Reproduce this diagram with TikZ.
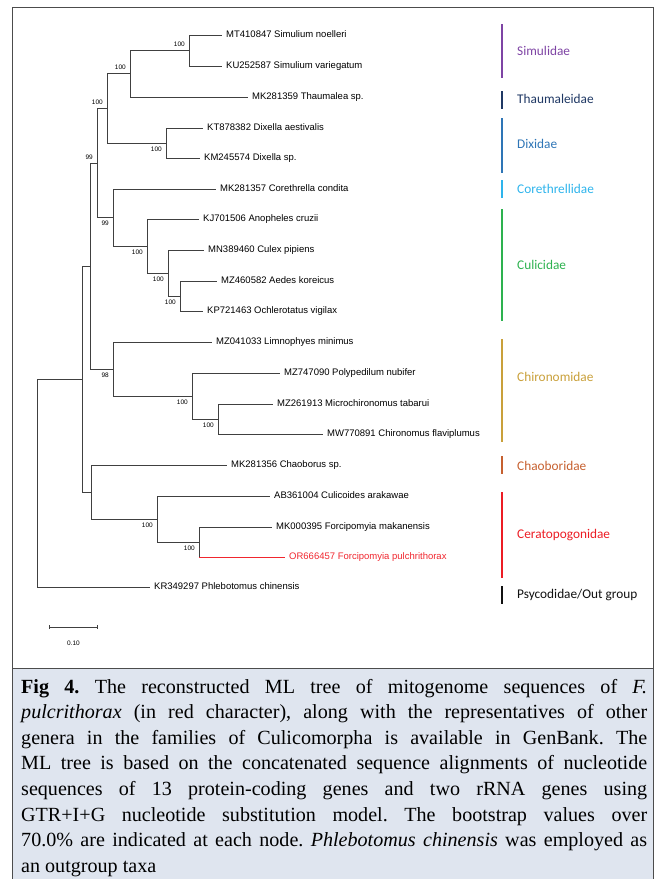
\documentclass[tikz,border=0pt]{standalone}
\usepackage{fontspec}
\usetikzlibrary{arrows.meta}
\newfontfamily\leaffont{Liberation Sans}
\newfontfamily\famfont{Carlito}
\newfontfamily\capfont{Liberation Serif}
\definecolor{simcol}{HTML}{7E44A4}
\definecolor{thaucol}{HTML}{1F3864}
\definecolor{dixcol}{HTML}{2E75B6}
\definecolor{corcol}{HTML}{2EB4EC}
\definecolor{culcol}{HTML}{2DB24F}
\definecolor{chicol}{HTML}{C9A03A}
\definecolor{chacol}{HTML}{C6602F}
\definecolor{cercol}{HTML}{EC1C24}
\definecolor{psycol}{HTML}{111111}
\definecolor{redtaxon}{HTML}{F0262E}
\definecolor{capfill}{HTML}{DFE5EF}
\begin{document}
\begin{tikzpicture} [
                x=1pt, y=-1pt,
                branch/.style = {draw=black!75, line width=0.8pt},
                leaf/.style = {anchor=west, inner xsep=4pt, inner ysep=0pt, text height=7pt, text depth=2pt,
                               font=\leaffont\fontsize{9.5}{11}\selectfont},
                bootval/.style = {inner sep=1pt, xshift=-3pt, font=\leaffont\fontsize{6.5}{7}\selectfont},
                bsup/.style = {bootval, anchor=south east, yshift=2.5pt},
                bsdown/.style = {bootval, anchor=north east, yshift=-2.5pt},
                famline/.style = {line width=1.6pt},
                famlabel/.style = {anchor=west, inner sep=0pt, font=\famfont\fontsize{13.3}{15}\selectfont},
            ]
            \useasboundingbox (0,0) rectangle (657,879);
            % frame of the tree panel and the caption box
            \draw[black!70, line width=0.8pt] (12,7) rectangle (653,668);
            \draw[black!70, line width=0.8pt, fill=capfill] (12,668) rectangle (653,882);
            % First we place the leaves
            \foreach \x/\y/\name/\txt in {
                    222/35/MT410847/{Simulium noelleri}, 222/66/KU252587/{Simulium variegatum},
                    248/97/MK281359/{Thaumalea sp.},
                    203/128/KT878382/{Dixella aestivalis}, 200/158/KM245574/{Dixella sp.},
                    216/189/MK281357/{Corethrella condita},
                    199/219/KJ701506/{Anopheles cruzii}, 204/250/MN389460/{Culex pipiens},
                    217/281/MZ460582/{Aedes koreicus}, 203/311/KP721463/{Ochlerotatus vigilax},
                    212/342/MZ041033/{Limnophyes minimus}, 280/373/MZ747090/{Polypedilum nubifer},
                    273/404/MZ261913/{Microchironomus tabarui}, 323/434/MW770891/{Chironomus flaviplumus},
                    227/465/MK281356/{Chaoborus sp.},
                    270/496/AB361004/{Culicoides arakawae}, 272/527/MK000395/{Forcipomyia makanensis},
                    150/587/KR349297/{Phlebotomus chinensis}}
                \node[leaf] (\name) at (\x,\y) {\name\ \txt};
            \node[leaf, text=redtaxon] (OR666457) at (285,557) {OR666457 Forcipomyia pulchrithorax};
            % inner nodes of the tree
            \foreach \x/\y/\name in {
                    189/50.5/nSim, 130/73.75/nSimThau, 166/143/nDix, 107/108.4/nUpper,
                    180/296/nCulC, 168/273/nCulB, 147/246/nCulA, 113/217.5/nCoreCul, 97/163/nNematA,
                    218/419/nChiC, 192/396/nChiB, 113/369/nChiA, 90/266/nNematB,
                    199/542/nCerB, 157/519/nCerA, 91/492/nChaoCer, 82/379/nIngroup, 37/483/nRoot}
                \coordinate (\name) at (\x,\y);
            % Connect parents with children
            \foreach \source/\dest in {
                    nSim/MT410847, nSim/KU252587, nSimThau/nSim, nSimThau/MK281359,
                    nDix/KT878382, nDix/KM245574, nUpper/nSimThau, nUpper/nDix,
                    nCulC/MZ460582, nCulC/KP721463, nCulB/MN389460, nCulB/nCulC,
                    nCulA/KJ701506, nCulA/nCulB, nCoreCul/MK281357, nCoreCul/nCulA,
                    nNematA/nUpper, nNematA/nCoreCul,
                    nChiC/MZ261913, nChiC/MW770891, nChiB/MZ747090, nChiB/nChiC,
                    nChiA/MZ041033, nChiA/nChiB, nNematB/nNematA, nNematB/nChiA,
                    nCerB/MK000395, nCerA/AB361004, nCerA/nCerB,
                    nChaoCer/MK281356, nChaoCer/nCerA, nIngroup/nNematB, nIngroup/nChaoCer,
                    nRoot/nIngroup, nRoot/KR349297}
                \path[branch] (\source) |- (\dest);
            % the new sequence gets a red branch
            \path[branch] (nCerB) -- (nCerB |- OR666457);
            \path[branch, draw=redtaxon] (nCerB |- OR666457) -- (OR666457);
            % bootstrap values
            \foreach \nd/\val/\pos in {
                    nSim/100/bsup, nSimThau/100/bsup, nUpper/100/bsup, nDix/100/bsdown,
                    nNematA/99/bsup, nCoreCul/99/bsdown, nCulA/100/bsdown, nCulB/100/bsdown,
                    nCulC/100/bsdown, nChiA/98/bsdown, nChiB/100/bsdown, nChiC/100/bsdown,
                    nCerA/100/bsdown, nCerB/100/bsdown}
                \node[\pos] (bs\nd) at (\nd) {\val};
            % scale bar
            \coordinate (barL) at (49,627);
            \coordinate (barR) at (98,627);
            \path[branch, {Bar[width=4pt]}-{Bar[width=4pt]}] (barL) -- (barR);
            \node[bootval, xshift=3pt] (barlabel) at (73.5,643) {0.10};
            % family bars and names
            \foreach \ya/\yb/\ly/\col/\key/\fam in {
                    24/78/51/simcol/sim/Simulidae, 91/109/99/thaucol/thau/Thaumaleidae,
                    118/173/144/dixcol/dix/Dixidae, 180/198/189/corcol/cor/Corethrellidae,
                    209/321/265/culcol/cul/Culicidae, 339/442/377/chicol/chi/Chironomidae,
                    456/474/466/chacol/cha/Chaoboridae, 492/578/535/cercol/cer/Ceratopogonidae,
                    586/604/595/psycol/psy/{Psycodidae/Out group}}
            {
                \draw[famline, draw=\col] (502,\ya) -- (502,\yb);
                \node[famlabel, text=\col] (fam\key) at (517,\ly) {\fam};
            }
            % caption
            \node[anchor=base west, inner sep=0pt, text width=626pt, align=justify,
                  font=\capfont\fontsize{20.1}{25.6}\selectfont\frenchspacing] (caption) at (21,693) {%
                \makebox[626pt][s]{\textbf{Fig 4.} The reconstructed ML tree of mitogenome sequences of \textit{F.}}\\
                \makebox[626pt][s]{\textit{pulcrithorax} (in red character), along with the representatives of other}\\
                \makebox[626pt][s]{genera in the families of Culicomorpha is available in GenBank. The}\\
                \makebox[626pt][s]{ML tree is based on the concatenated sequence alignments of nucleotide}\\
                \makebox[626pt][s]{sequences of 13 protein-coding genes and two rRNA genes using}\\
                \makebox[626pt][s]{GTR+I+G nucleotide substitution model. The bootstrap values over}\\
                \makebox[626pt][s]{70.0\% are indicated at each node. \textit{Phlebotomus chinensis} was employed as}\\
                an outgroup taxa};
        \end{tikzpicture}
\end{document}
